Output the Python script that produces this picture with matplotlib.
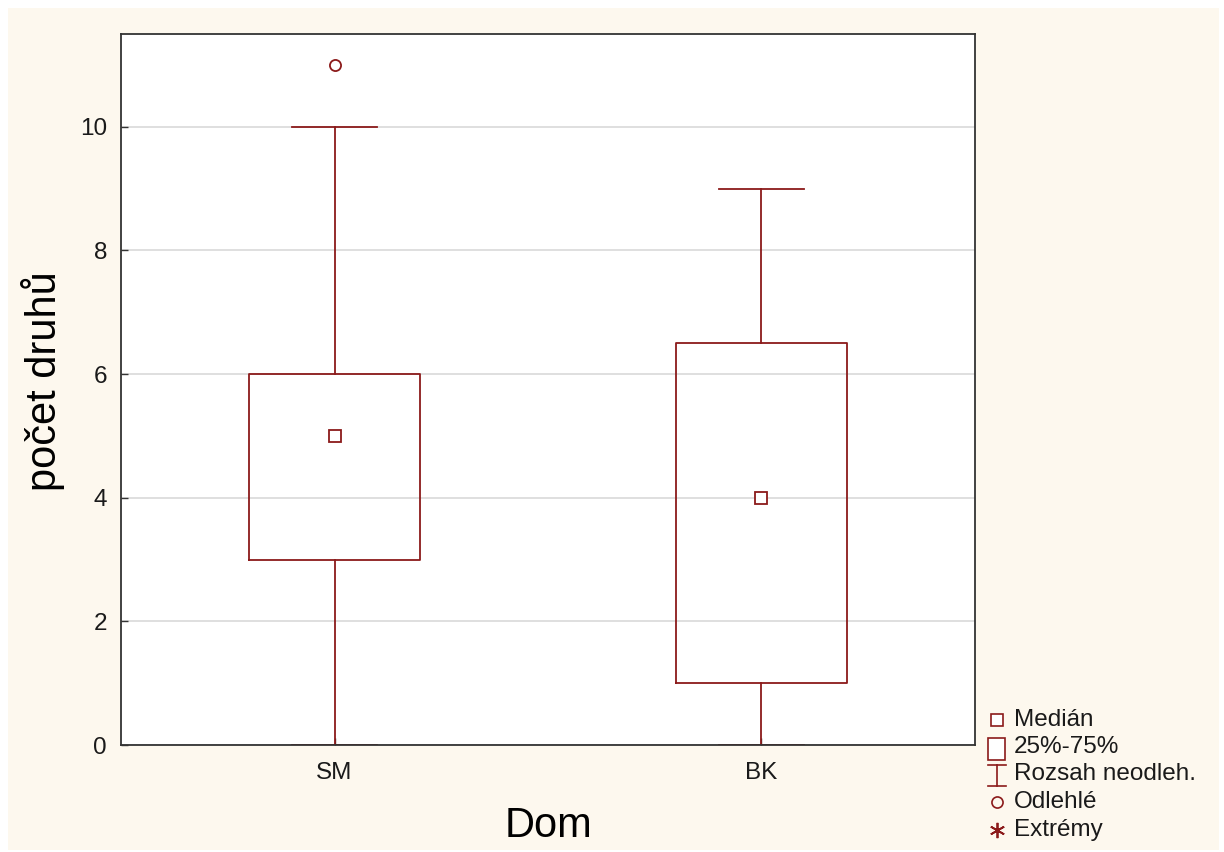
import numpy as np
import matplotlib.pyplot as plt
from matplotlib.patches import Rectangle
from matplotlib.lines import Line2D

plt.rcParams["font.family"] = ["Liberation Sans", "DejaVu Sans"]

# box statistics per group
groups = ["SM", "BK"]
medians = [5, 4]
q1 = [3, 1]
q3 = [6, 6.5]
whisker_lo = [0, 0]
whisker_hi = [10, 9]
outliers = [[11], []]

DARK_RED = "#8B1A1A"
CREAM = "#FDF8EE"

W, H = 1224, 852
fig = plt.figure(figsize=(W / 100, H / 100), dpi=100, facecolor="white")
fig.patches.append(Rectangle((8 / W, 2 / H), (1219 - 8) / W, (844 - 2) / H,
                             transform=fig.transFigure, facecolor=CREAM,
                             edgecolor="none", zorder=-10))

ax = fig.add_axes([121 / W, 1 - 745 / H, (975 - 121) / W, (745 - 34) / H])
ax.set_facecolor("white")

stats = []
for i, g in enumerate(groups):
    stats.append({"label": g, "med": medians[i], "q1": q1[i], "q3": q3[i],
                  "whislo": whisker_lo[i], "whishi": whisker_hi[i],
                  "fliers": outliers[i]})

pos = np.arange(1, len(groups) + 1)
lp = dict(color=DARK_RED, linewidth=1.3)
ax.bxp(stats, positions=pos, widths=0.4, capwidths=0.2,
       boxprops=lp, whiskerprops=lp, capprops=lp,
       medianprops=dict(visible=False),
       flierprops=dict(marker="o", markersize=8, markerfacecolor="none",
                       markeredgecolor=DARK_RED, markeredgewidth=1.3),
       manage_ticks=False)
ax.plot(pos, medians, linestyle="none", marker="s", markersize=8,
        markerfacecolor="white", markeredgecolor=DARK_RED,
        markeredgewidth=1.3, zorder=3)

ax.set_xlim(0.5, len(groups) + 0.5)
ax.set_ylim(0, 11.5)
ax.set_yticks([0, 2, 4, 6, 8, 10])
ax.set_xticks(pos)
ax.set_xticklabels(groups)
ax.yaxis.grid(True, color="#D9D9D9", linewidth=1.2)
ax.set_axisbelow(True)
ax.tick_params(direction="in", length=5, width=1, color="#333333",
               labelsize=17.5, labelcolor="#1a1a1a")
ax.tick_params(axis="x", pad=12)
ax.tick_params(axis="y", pad=10)
for s in ax.spines.values():
    s.set_color("#333333")
    s.set_linewidth(1.3)
    s.set_zorder(5)

ax.set_xlabel("Dom", fontsize=30, labelpad=16)
ax.set_ylabel("počet druhů", fontsize=30)
ax.yaxis.set_label_coords(-0.066, 0.512)

# legend drawn by hand at the lower right
labels = ["Medián", "25%-75%", "Rozsah neodleh.", "Odlehlé", "Extrémy"]
rows_y = [720, 747, 774, 802, 830]
mx = 997
for lab, y in zip(labels, rows_y):
    fig.text(1014 / W, 1 - y / H, lab, fontsize=17.5, color="#1a1a1a",
             va="center", ha="left")

def fx(px):
    return px / W

def fy(py):
    return 1 - py / H

fig.add_artist(Line2D([fx(mx)], [fy(rows_y[0])], marker="s", markersize=8,
                      markerfacecolor="white", markeredgecolor=DARK_RED,
                      markeredgewidth=1.2, linestyle="none"))
fig.add_artist(Rectangle((fx(988), fy(760)), 17 / W, 22 / H,
                         transform=fig.transFigure, facecolor="white",
                         edgecolor=DARK_RED, linewidth=1.2))
for seg in [((988, 1006), (765, 765)), ((988, 1006), (786, 786)),
            ((997, 997), (765, 786))]:
    fig.add_artist(Line2D([fx(seg[0][0]), fx(seg[0][1])],
                          [fy(seg[1][0]), fy(seg[1][1])],
                          color=DARK_RED, linewidth=1.2))
fig.add_artist(Line2D([fx(mx)], [fy(rows_y[3])], marker="o", markersize=8,
                      markerfacecolor="none", markeredgecolor=DARK_RED,
                      markeredgewidth=1.2, linestyle="none"))
fig.add_artist(Line2D([fx(mx)], [fy(rows_y[4])], marker=(6, 2, 0), markersize=11,
                      markeredgecolor=DARK_RED, markeredgewidth=1.3,
                      linestyle="none"))

fig.savefig("out.png", dpi=100, facecolor=fig.get_facecolor())
